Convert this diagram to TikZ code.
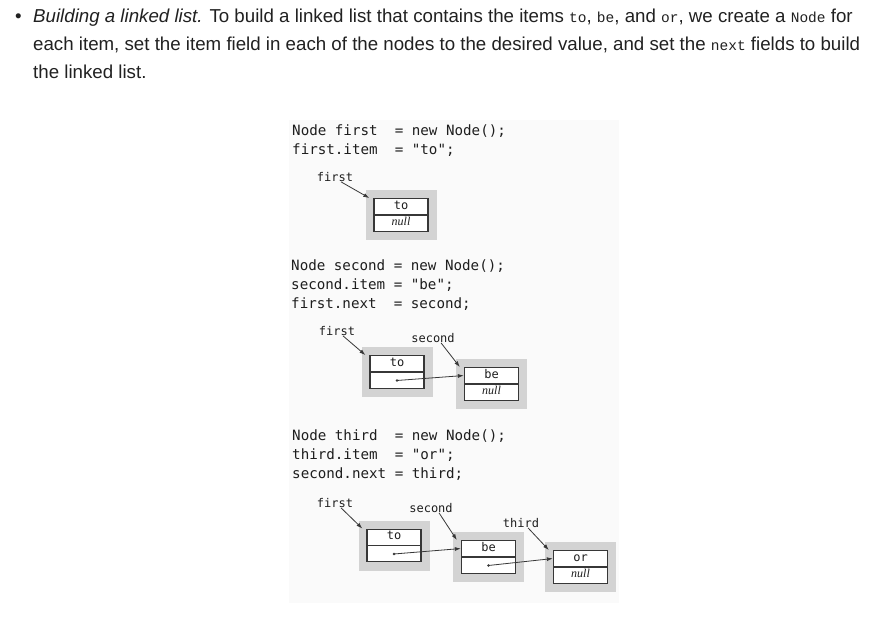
\documentclass[tikz,border=0pt]{standalone}
\usepackage{fontspec}
\setmainfont{Liberation Sans}
\newfontfamily\codefont{DejaVu Sans Mono}
\newfontfamily\inlinefont{Liberation Mono}
\newfontfamily\nilfont{Liberation Serif}
\usetikzlibrary{calc}
\usetikzlibrary{arrows.meta}
\usetikzlibrary{positioning}
\usetikzlibrary{shapes.multipart}
\definecolor{panelgray}{RGB}{250, 250, 250}
\definecolor{shadegray}{RGB}{211, 211, 211}
\definecolor{boxline}{RGB}{55, 55, 55}
\definecolor{inktext}{RGB}{30, 30, 30}
\newcommand{\nil}{{\nilfont\itshape null}}
\newcommand{\cd}[1]{{\inlinefont\fontsize{14.5}{16}\selectfont #1}}
\tikzset{
    backdrop/.style={fill=shadegray, minimum width=71pt, minimum height=50pt, inner sep=0pt},
    listnode/.style={rectangle split, rectangle split parts=2, draw=boxline, line width=1.3pt, fill=white,
                     minimum width=54pt, inner xsep=0pt, inner ysep=1pt, text=inktext,
                     font=\codefont\fontsize{12}{13}\selectfont},
    reflabel/.style={font=\codefont\fontsize{12}{13}\selectfont, text=inktext, inner sep=0pt},
    pointer/.style={draw=boxline, line width=0.8pt, -{Latex[length=6pt, width=4pt]}},
    codeblock/.style={anchor=north west, align=left, inner sep=0pt, text=inktext,
                      font=\codefont\fontsize{14.2}{19}\selectfont},
    para/.style={anchor=base west, inner sep=0pt, text=black!87, font=\fontsize{18.7}{20}\selectfont}
}
\begin{document}
\begin{tikzpicture}[x=1pt, y=-1pt]
            % Page and panel
            \fill[white] (0, 0) rectangle (894, 630);
            \useasboundingbox (0, 0) rectangle (894, 630);
            \fill[panelgray] (289, 120) rectangle (619, 603);
            % Text above
            \node[para] (bullet) at (15, 22) {\textbullet};
            \node[para] (lineA) at (33, 22) {\textit{Building a linked list.} To build a linked list that contains the items \cd{to}, \cd{be}, and \cd{or}, we create a \cd{Node} for};
            \node[para] (lineB) at (33, 50) {each item, set the item field in each of the nodes to the desired value, and set the \cd{next} fields to build};
            \node[para] (lineC) at (33, 78) {the linked list.};
            % Step one
            \node[codeblock] (codeA) at (292, 125) {Node first~~= new Node();\\first.item~~= "to";};
            \node[backdrop] (bgA) at (401, 215) {};
            \node[listnode] (toA) at (bgA.center) {\strut to\nodepart{two}\strut\nil};
            \node[reflabel] (firstA) at (335, 177) {first};
            \draw[pointer] ([xshift=6pt]firstA.south) -- ([xshift=-4pt]toA.north west);
            % Step two
            \node[codeblock] (codeB) at (291, 260) {Node second = new Node();\\second.item = "be";\\first.next~~= second;};
            \node[backdrop] (bgB1) at (397, 372) {};
            \node[backdrop] (bgB2) at (491.5, 384) {};
            \node[listnode] (toB) at (bgB1.center) {\strut to\nodepart{two}\strut};
            \node[listnode] (beB) at (bgB2.center) {\strut be\nodepart{two}\strut\nil};
            \node[reflabel] (firstB) at (337, 331) {first};
            \node[reflabel] (secondB) at (433, 338) {second};
            \draw[pointer] ([xshift=6pt]firstB.south) -- ([xshift=-4pt]toB.north west);
            \draw[pointer] ([xshift=8pt]secondB.south) -- ([xshift=-4pt]beB.north west);
            \coordinate (dotB) at ($(toB.text split)!.5!(toB.south)$);
            \fill[boxline] (dotB) circle (1.3pt);
            \draw[pointer] (dotB) -- ($(beB.north west)!.5!(beB.text split west)$);
            % Step three
            \node[codeblock] (codeC) at (292, 430) {Node third~~= new Node();\\third.item~~= "or";\\second.next = third;};
            \node[backdrop] (bgC1) at (394, 545.5) {};
            \node[backdrop] (bgC2) at (488.5, 557) {};
            \node[backdrop] (bgC3) at (580.5, 567) {};
            \node[listnode] (toC) at (bgC1.center) {\strut to\nodepart{two}\strut};
            \node[listnode] (beC) at (bgC2.center) {\strut be\nodepart{two}\strut};
            \node[listnode] (orC) at (bgC3.center) {\strut or\nodepart{two}\strut\nil};
            \node[reflabel] (firstC) at (335, 503) {first};
            \node[reflabel] (secondC) at (431, 508) {second};
            \node[reflabel] (thirdC) at (521, 523) {third};
            \draw[pointer] ([xshift=6pt]firstC.south) -- ([xshift=-4pt]toC.north west);
            \draw[pointer] ([xshift=8pt]secondC.south) -- ([xshift=-4pt]beC.north west);
            \draw[pointer] ([xshift=7pt]thirdC.south) -- ([xshift=-4pt]orC.north west);
            \coordinate (dotC1) at ($(toC.text split)!.5!(toC.south)$);
            \coordinate (dotC2) at ($(beC.text split)!.5!(beC.south)$);
            \fill[boxline] (dotC1) circle (1.3pt);
            \fill[boxline] (dotC2) circle (1.3pt);
            \draw[pointer] (dotC1) -- ($(beC.north west)!.5!(beC.text split west)$);
            \draw[pointer] (dotC2) -- ($(orC.north west)!.5!(orC.text split west)$);
\end{tikzpicture}
\end{document}
